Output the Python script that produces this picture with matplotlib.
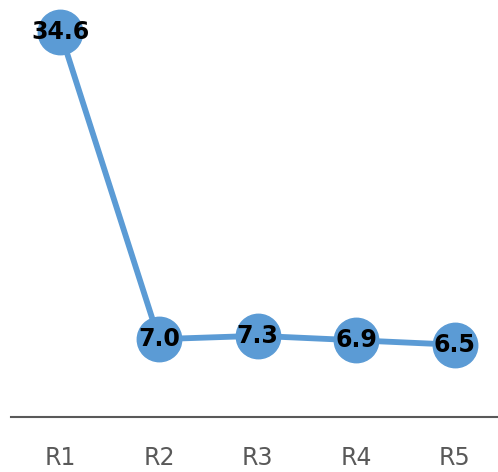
import matplotlib.pyplot as plt

rounds = ["R1", "R2", "R3", "R4", "R5"]
values = [34.6, 7.0, 7.3, 6.9, 6.5]

fig = plt.figure(figsize=(4.98, 4.72), dpi=100)
# axes: left edge ~11px, bottom (axis line) at ~417px from top
ax = fig.add_axes([11 / 498, (472 - 417) / 472, 493 / 498, 417 / 472])

x = list(range(len(rounds)))
ax.plot(x, values, color="#5b9bd5", lw=4.2, marker="o", ms=32,
        markerfacecolor="#5b9bd5", markeredgecolor="#5b9bd5", clip_on=False)
for xi, v in zip(x, values):
    ax.text(xi, v, f"{v:.1f}", ha="center", va="center", fontsize=17,
            fontweight="bold", color="black")

ax.set_xlim(-0.5, 4.5)
ax.set_ylim(0, 37.5)
ax.set_xticks(x)
ax.set_xticklabels(rounds, fontsize=17, color="#595959")
ax.tick_params(axis="x", length=0, pad=21)
ax.set_yticks([])
for s in ["top", "right", "left"]:
    ax.spines[s].set_visible(False)
ax.spines["bottom"].set_color("#595959")
ax.spines["bottom"].set_linewidth(1.5)

fig.savefig("out.png", dpi=100)
